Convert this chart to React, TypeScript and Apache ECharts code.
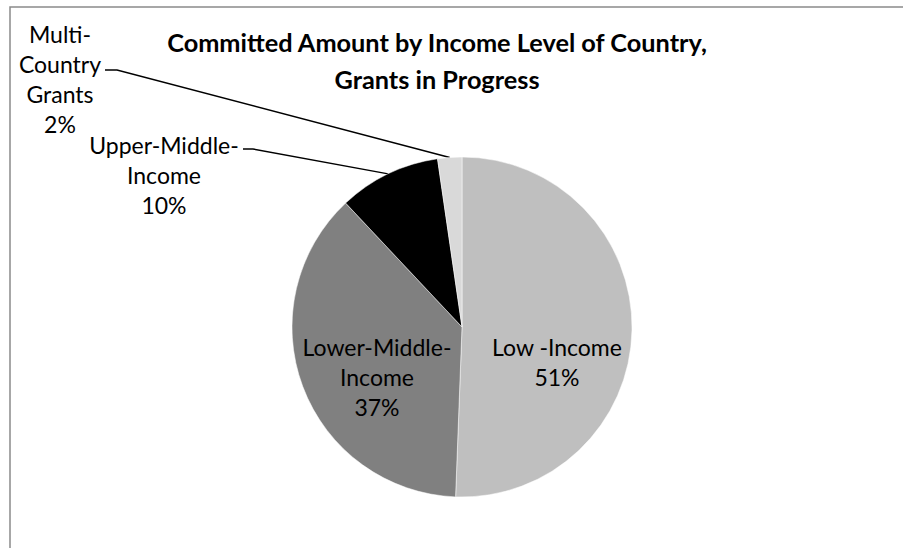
import React, { useEffect, useRef } from "react";
import * as echarts from "echarts";

const categories = ["Low -Income", "Lower-Middle-Income", "Upper-Middle-Income", "Multi-Country Grants"];
const labelNames = ["Low -Income", "Lower-Middle-\nIncome", "Upper-Middle-\nIncome", "Multi-\nCountry\nGrants"];
const values = [50.6, 37.4, 9.7, 2.3];
const colors = ["#bfbfbf", "#808080", "#000000", "#d9d9d9"];
const titleLines = ["Committed Amount by Income Level of Country,", "Grants in Progress"];

// label anchor positions (layout only)
const labelPos: [number, number][] = [
  [557, 362],
  [377, 377],
  [164, 175],
  [60, 79],
];
// where leader lines meet the outside labels: [bendX, endX, y]
const leaderEnds: ([number, number, number] | null)[] = [null, null, [253, 243, 149], [117, 105, 70]];

export default function App() {
  const ref = useRef<HTMLDivElement>(null);
  useEffect(() => {
    if (!ref.current) return;
    const chart = echarts.init(ref.current, undefined, { renderer: "svg" });
    const font = "Lato";
    chart.setOption({
      animation: false,
      backgroundColor: "#ffffff",
      graphic: [
        {
          type: "rect",
          shape: { x: 10, y: 7, width: 1000, height: 1000 },
          style: { fill: "none", stroke: "#8a8a8a", lineWidth: 1.5 },
          silent: true,
          z: 0,
        },
        {
          type: "text",
          x: 437,
          y: 23,
          style: {
            text: titleLines.join("\n"),
            font: `bold 25.3px ${font}`,
            textAlign: "center",
            lineHeight: 37,
            fill: "#000",
          },
        },
      ],
      series: [
        {
          type: "pie",
          center: [462, 327],
          radius: 170,
          startAngle: 90,
          clockwise: true,
          percentPrecision: 0,
          avoidLabelOverlap: false,
          itemStyle: { borderColor: "#ffffff", borderWidth: 0.5 },
          data: categories.map((c, i) => ({
            name: c,
            value: values[i],
            itemStyle: { color: colors[i] },
            label: {
              position: i < 2 ? "inside" : "outside",
              formatter: `${labelNames[i]}\n{d}%`,
            },
            labelLine: { show: i >= 2 },
          })),
          label: {
            fontFamily: font,
            fontSize: 23,
            lineHeight: 30,
            color: "#000",
            align: "center",
          },
          labelLine: {
            lineStyle: { color: "#000", width: 1.5 },
            length: 20,
            length2: 10,
          },
          labelLayout: (p: any) => {
            const res: any = {
              x: labelPos[p.dataIndex][0],
              y: labelPos[p.dataIndex][1],
              align: "center",
              verticalAlign: "middle",
            };
            const le = leaderEnds[p.dataIndex];
            if (le && p.labelLinePoints && p.labelLinePoints[0]) {
              res.labelLinePoints = [p.labelLinePoints[0], [le[0], le[2]], [le[1], le[2]]];
            }
            return res;
          },
        },
      ],
    });
    return () => chart.dispose();
  }, []);
  return <div ref={ref} style={{ position: "absolute", left: 0, top: 0, width: 903, height: 548 }} />;
}
